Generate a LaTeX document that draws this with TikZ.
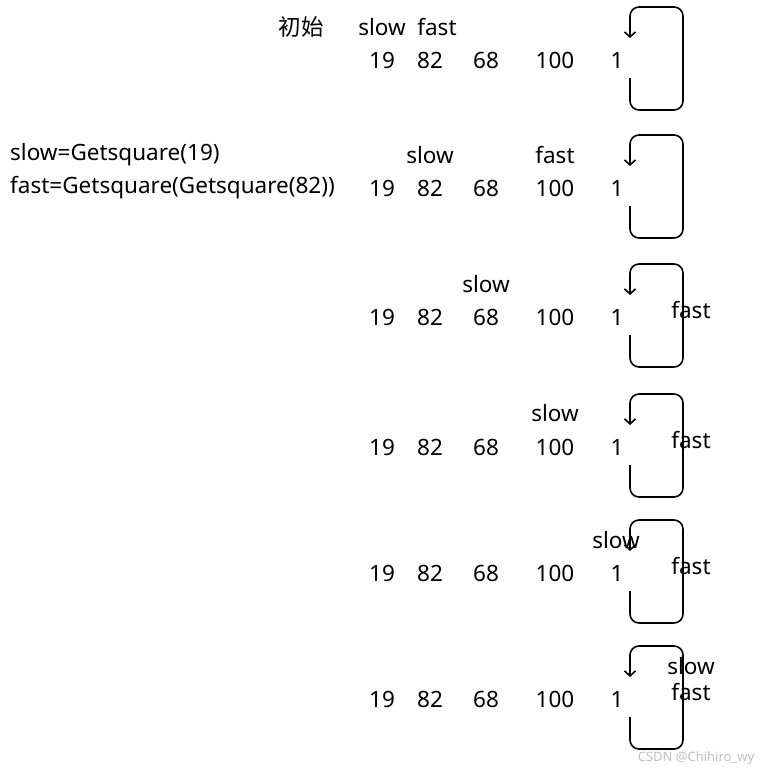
\documentclass[tikz,border=0pt]{standalone}
\usepackage{fontspec}
\setmainfont{Noto Sans}
\newfontfamily\cjkfont{Noto Sans CJK SC}
\usetikzlibrary{arrows.meta}
\tikzset{
  num/.style={inner sep=0pt, font=\fontsize{22.5}{27}\selectfont},
  ptr/.style={inner sep=0pt, font=\fontsize{22.5}{27}\selectfont},
  note/.style={inner sep=0pt, anchor=west, font=\fontsize{22.5}{27}\selectfont},
  loopline/.style={-{Straight Barb[length=5pt,width=11pt]}, line width=1.6pt, rounded corners=9pt}
}
\begin{document}
\begin{tikzpicture}[x=1pt,y=-1pt]
  \useasboundingbox (0,0) rectangle (763,771);
  % the list in each round, with 1 pointing back to itself
  \foreach \r/\y in {1/60,2/188,3/317,4/447,5/573,6/699} {
    \foreach \i/\v/\x in {1/19/382,2/82/430,3/68/486,4/100/555,5/1/617}
      \node[num] (n\r-\i) at (\x,\y) {\v};
    \draw[loopline] (n\r-5) ++(13,18) -- ++(0,32) -- ++(53,0)
      -- ++(0,-103) -- ++(-53,0) -- ++(0,31);
  }
  % pointers
  \node[ptr, font=\cjkfont\fontsize{22.5}{27}\selectfont] (start) at (301,27) {初始};
  \node[ptr] (slow1) at (382,27) {slow};
  \node[ptr] (fast1) at (437,27) {fast};
  \node[note] (step1) at (10,155) {slow=Getsquare(19)};
  \node[note] (step2) at (10,188) {fast=Getsquare(Getsquare(82))};
  \node[ptr] (slow2) at (430,155) {slow};
  \node[ptr] (fast2) at (555,155) {fast};
  \node[ptr] (slow3) at (486,284) {slow};
  \node[ptr] (fast3) at (691,310) {fast};
  \node[ptr] (slow4) at (555,413) {slow};
  \node[ptr] (fast4) at (691,440) {fast};
  \node[ptr] (slow5) at (616,540) {slow};
  \node[ptr] (fast5) at (691,566) {fast};
  \node[ptr] (slow6) at (691,666) {slow};
  \node[ptr] (fast6) at (691,692) {fast};
  \node[inner sep=0pt, text=black!25, font=\fontsize{13}{15}\selectfont] (mark) at (696,758) {CSDN @Chihiro\_wy};
\end{tikzpicture}
\end{document}
